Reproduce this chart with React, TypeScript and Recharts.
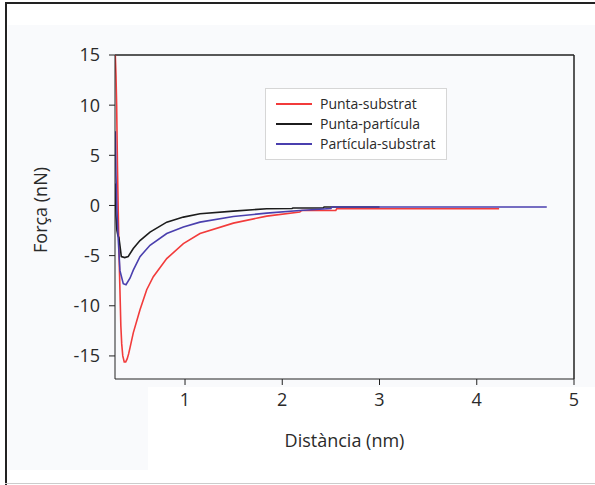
import { LineChart, Line, XAxis, YAxis, ReferenceLine } from 'recharts';

// Distància (nm) / Força (nN)
const puntaSubstratX = [0.283, 0.29, 0.297, 0.305, 0.314, 0.322, 0.331, 0.34, 0.349, 0.36, 0.375, 0.39, 0.405, 0.42, 0.434, 0.468, 0.537, 0.606, 0.674, 0.812, 0.983, 1.154, 1.497, 1.84, 2.18, 2.2, 2.55, 2.56, 4.23];
const puntaSubstratY = [15, 13, 10, 4, -1, -5, -8.5, -12, -13.8, -15, -15.6, -15.6, -15.3, -14.8, -14.2, -12.7, -10.4, -8.4, -7.1, -5.3, -3.8, -2.8, -1.76, -1.06, -0.66, -0.5, -0.5, -0.33, -0.33];

const puntaParticulaX = [0.283, 0.29, 0.3, 0.31, 0.32, 0.331, 0.345, 0.38, 0.415, 0.468, 0.537, 0.64, 0.812, 0.983, 1.154, 1.497, 1.84, 2.1, 2.11, 2.42, 2.43, 3.0];
const puntaParticulaY = [2.2, -1, -2.5, -3.0, -3.2, -4.0, -5.1, -5.2, -5.1, -4.3, -3.5, -2.65, -1.66, -1.16, -0.83, -0.56, -0.33, -0.3, -0.25, -0.25, -0.15, -0.15];

const particulaSubstratX = [0.283, 0.29, 0.3, 0.314, 0.331, 0.365, 0.393, 0.434, 0.468, 0.537, 0.64, 0.812, 0.983, 1.154, 1.497, 1.84, 2.18, 2.5, 2.51, 4.72];
const particulaSubstratY = [7.4, 3, -0.5, -3.5, -6.5, -7.8, -7.9, -7.25, -6.45, -5.1, -3.97, -2.8, -2.15, -1.66, -1.1, -0.76, -0.5, -0.3, -0.15, -0.15];

const xTicks = [1, 2, 3, 4, 5];
const yTicks = [-15, -10, -5, 0, 5, 10, 15];

const series = [
  { name: 'Punta-substrat', color: '#f23b3b', xs: puntaSubstratX, ys: puntaSubstratY },
  { name: 'Punta-partícula', color: '#1c1c1c', xs: puntaParticulaX, ys: puntaParticulaY },
  { name: 'Partícula-substrat', color: '#4a3fae', xs: particulaSubstratX, ys: particulaSubstratY },
];

const font = '"Open Sans", sans-serif';
const textColor = '#2a2a2a';

function LegendBox() {
  return (
    <div style={{ position: 'absolute', left: 265, top: 88, border: '1px solid #d6d6d6', background: '#fff', padding: '5px 10px 5px 10px', fontFamily: font, fontSize: 14, color: textColor, lineHeight: '20px' }}>
      {series.map(s => (
        <div key={s.name} style={{ display: 'flex', alignItems: 'center' }}>
          <span style={{ display: 'inline-block', width: 36, height: 2, background: s.color, marginRight: 8 }} />
          {s.name}
        </div>
      ))}
    </div>
  );
}

export default function App() {
  return (
    <div style={{ position: 'fixed', left: 0, top: 0, width: 595, height: 485, background: '#fff' }}>
      <svg width={595} height={485} style={{ position: 'absolute', left: 0, top: 0 }}>
        <rect x={8} y={25} width={587} height={362} fill="#f9fafc" />
        <rect x={8} y={387} width={140} height={83} fill="#f9fafc" />
      </svg>
      <div style={{ position: 'absolute', left: 0, top: 0 }}>
        <LineChart width={595} height={485} margin={{ top: 55, right: 21, bottom: 76, left: 0 }}>
          <XAxis
            type="number"
            dataKey="x"
            domain={[0.28, 5]}
            ticks={xTicks}
            allowDataOverflow
            stroke="#222"
            tickSize={6}
            tickMargin={8}
            height={30}
            tick={{ fill: textColor, fontSize: 18, fontFamily: font }}
          />
          <YAxis
            type="number"
            dataKey="y"
            domain={[-17.3, 15]}
            ticks={yTicks}
            allowDataOverflow
            stroke="#222"
            tickSize={6}
            tickMargin={9}
            width={115}
            tick={{ fill: textColor, fontSize: 18, fontFamily: font }}
          />
          <ReferenceLine y={15} stroke="#222" strokeWidth={1.5} />
          <ReferenceLine x={5} stroke="#222" strokeWidth={1.5} />
          {series.map(s => (
            <Line
              key={s.name}
              data={s.xs.map((x, i) => ({ x, y: s.ys[i] }))}
              dataKey="y"
              name={s.name}
              type="linear"
              stroke={s.color}
              strokeWidth={1.6}
              dot={false}
              isAnimationActive={false}
            />
          ))}
        </LineChart>
      </div>
      <LegendBox />
      <div style={{ position: 'absolute', left: 0, width: 595, top: 428, paddingLeft: 115, paddingRight: 21, boxSizing: 'border-box', textAlign: 'center', fontFamily: font, fontSize: 18, color: textColor }}>
        Distància (nm)
      </div>
      <div style={{ position: 'absolute', left: 40, top: 210, transform: 'translate(-50%, -50%) rotate(-90deg)', whiteSpace: 'nowrap', fontFamily: font, fontSize: 18, color: textColor }}>
        Força (nN)
      </div>
      <div style={{ position: 'absolute', zIndex: 10, left: 5, top: 2, width: 2, height: 483, background: '#222' }} />
      <div style={{ position: 'absolute', zIndex: 10, left: 5, top: 2, width: 590, height: 2, background: '#222' }} />
      <div style={{ position: 'absolute', zIndex: 10, left: 5, top: 483, width: 590, height: 1, background: '#ccc' }} />
    </div>
  );
}
